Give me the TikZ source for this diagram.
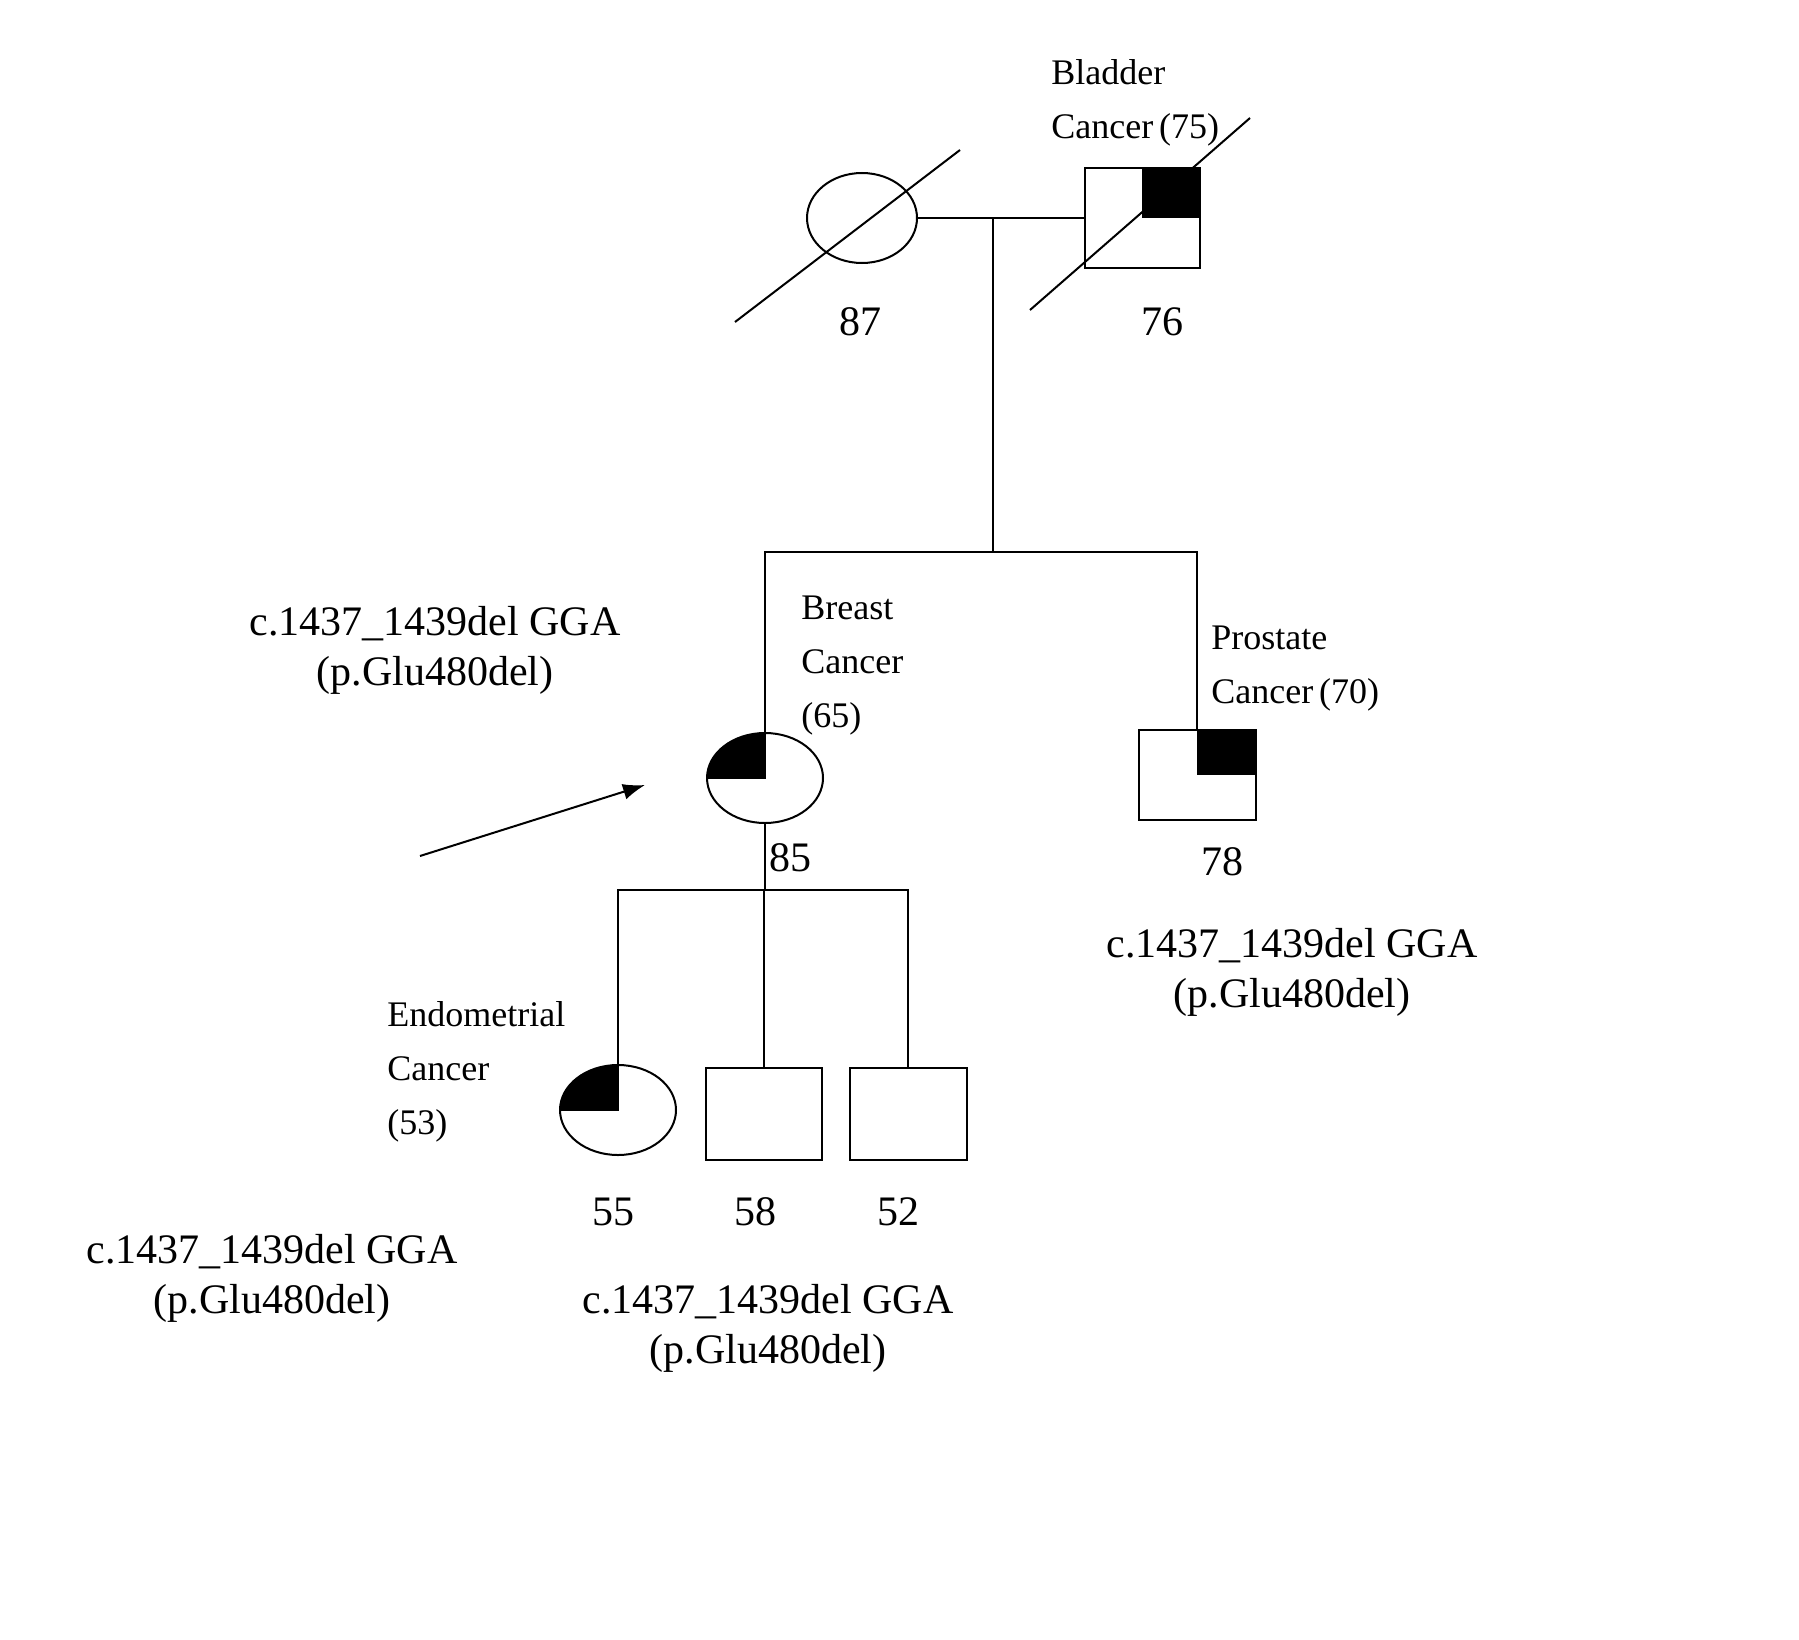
\documentclass[tikz,border=0pt]{standalone}
\usepackage{fontspec}
\setmainfont{Liberation Serif}
\usetikzlibrary{shapes.geometric,arrows.meta}
\begin{document}
\begin{tikzpicture}[x=1pt,y=-1pt,line width=2.6pt,
 big/.style={font=\fontsize{42}{50}\selectfont,inner sep=0},
 small/.style={font=\fontsize{36}{54}\selectfont,inner sep=0,align=left,anchor=north west}]
\useasboundingbox (0,0) rectangle (1799,1640);
% grandparents
\node[draw,ellipse,minimum width=110,minimum height=90,inner sep=0,line width=2pt] (gm) at (862,218) {};
\draw[line width=2pt] (735,322) -- (960,150);
\fill (1142,168) rectangle (1200,218);
\node[draw,minimum width=115,minimum height=100,inner sep=0,line width=2pt] (gf) at (1142,218) {};
\draw[line width=2pt] (1030,310) -- (1250,118);
\coordinate (m1) at (993,218);
\draw (gm.east) -- (gf.west);
\coordinate (s1) at (993,552);
\draw (m1) -- (s1);
% generation 2
\node[draw,ellipse,minimum width=116,minimum height=90,inner sep=0,line width=2pt] (d) at (765,778) {};
\fill (707,778) arc (180:270:58 and 45) -- (765,778) -- cycle;
\draw[line width=2pt] (765,733) -- (765,778) -- (707,778);
\fill (1197,730) rectangle (1255,775);
\node[draw,minimum width=117,minimum height=90,inner sep=0,line width=2pt] (s) at (1197,775) {};
\draw (d.north) -- (765,552) -- (1197,552) -- (s.north);
% generation 3
\node[draw,ellipse,minimum width=116,minimum height=90,inner sep=0,line width=2pt] (c1) at (618,1110) {};
\fill (560,1110) arc (180:270:58 and 45) -- (618,1110) -- cycle;
\draw[line width=2pt] (618,1065) -- (618,1110) -- (560,1110);
\node[draw,minimum width=116,minimum height=92,inner sep=0,line width=2pt] (c2) at (764,1114) {};
\node[draw,minimum width=117,minimum height=92,inner sep=0,line width=2pt] (c3) at (908,1114) {};
\coordinate (s2) at (765,890);
\draw (d.south) -- (s2);
\draw (c1.north) -- (618,890) -- (908,890) -- (c3.north);
\draw (c2.north) -- (764,890);
% arrow
\coordinate (ar) at (420,856);
\coordinate (at) at (645,785);
\draw[-{Latex[length=22pt,width=16pt]},line width=2pt] (ar) -- (at);
% labels
\node[small] at (1050,58) {Bladder\\Cancer\,(75)};
\node[big] at (860,322) {87};
\node[big] at (1162,322) {76};
\node[big,align=center] at (435,650) {c.1437\_1439del GGA\\(p.Glu480del)};
\node[small] at (800,595) {Breast\\Cancer\\(65)};
\node[small] at (1210,625) {Prostate\\Cancer\,(70)};
\node[big] at (790,858) {85};
\node[big] at (1222,862) {78};
\node[big,align=center] at (1292,972) {c.1437\_1439del GGA\\(p.Glu480del)};
\node[small] at (386,1000) {Endometrial\\Cancer\\(53)};
\node[big] at (613,1212) {55};
\node[big] at (755,1212) {58};
\node[big] at (898,1212) {52};
\node[big,align=center] at (272,1278) {c.1437\_1439del GGA\\(p.Glu480del)};
\node[big,align=center] at (768,1328) {c.1437\_1439del GGA\\(p.Glu480del)};
\end{tikzpicture}
\end{document}
